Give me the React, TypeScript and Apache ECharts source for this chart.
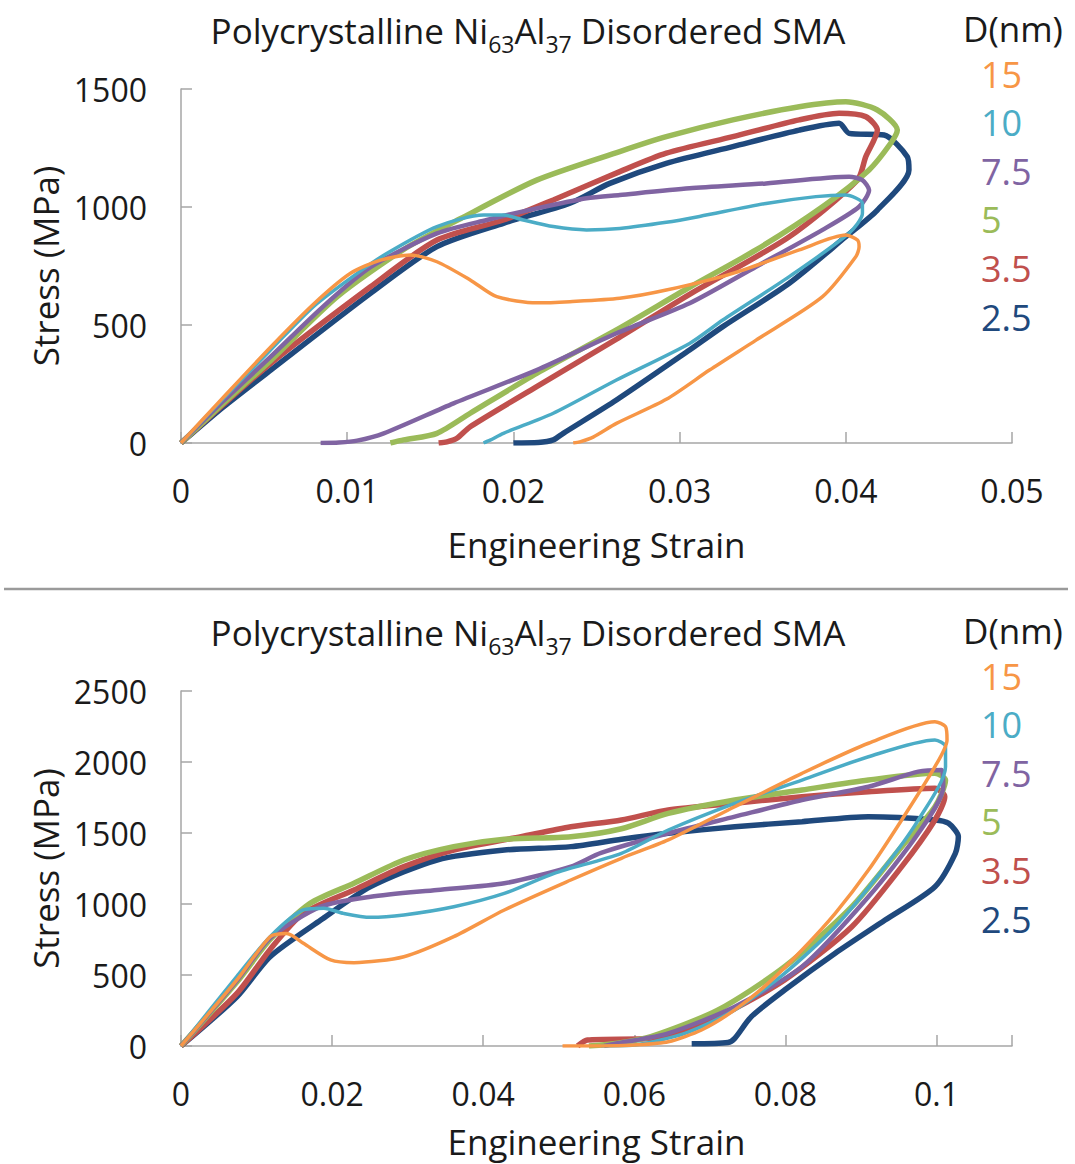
import React, { useEffect, useRef } from "react";
import * as echarts from "echarts";

// ---------- data ----------
const sizeNames = ["15", "10", "7.5", "5", "3.5", "2.5"];
const sizeColors = ["#F79646", "#4BACC6", "#8064A2", "#9BBB59", "#C0504D", "#1F497D"];
const sizeWidths = [3.5, 3.5, 4.5, 5.5, 5.5, 5.5];

const topXTicks = [0, 0.01, 0.02, 0.03, 0.04, 0.05];
const topYTicks = [0, 500, 1000, 1500];
const botXTicks = [0, 0.02, 0.04, 0.06, 0.08, 0.1];
const botXMax = 0.11;
const botYTicks = [0, 500, 1000, 1500, 2000, 2500];

// top panel: [strain, stress MPa]
const top15 = [[0,0],[0.0025,190],[0.0054,407],[0.008,590],[0.0102,719],[0.012,775],[0.0138,797],[0.0154,768],[0.0174,691],[0.019,620],[0.0214,594],[0.0234,599],[0.0264,613],[0.0292,648],[0.0332,719],[0.0372,818],[0.04,881],[0.0407,860],[0.0408,832],[0.0406,789],[0.0386,620],[0.0346,436],[0.0318,309],[0.0292,185],[0.0262,83],[0.0248,25],[0.024,5],[0.0236,0]];
const top10 = [[0,0],[0.0025,185],[0.0054,395],[0.008,580],[0.0106,719],[0.0124,804],[0.0154,917],[0.0182,966],[0.0194,966],[0.0206,945],[0.0224,917],[0.0244,903],[0.0264,909],[0.0292,935],[0.0312,960],[0.0352,1015],[0.0382,1044],[0.04,1051],[0.041,1016],[0.041,973],[0.0402,889],[0.0366,705],[0.0326,521],[0.0306,422],[0.0262,267],[0.0224,126],[0.0194,41],[0.0186,12],[0.0182,0]];
const top7_5 = [[0,0],[0.0025,175],[0.0054,366],[0.0085,575],[0.0114,745],[0.0154,888],[0.0184,945],[0.0214,994],[0.0244,1037],[0.0264,1051],[0.0306,1079],[0.0352,1100],[0.0402,1128],[0.041,1114],[0.0414,1072],[0.0408,1001],[0.0386,903],[0.0346,747],[0.0306,592],[0.0262,465],[0.0214,309],[0.0164,168],[0.0122,41],[0.0106,10],[0.0095,2],[0.0084,0]];
const top5 = [[0,0],[0.0025,165],[0.0054,350],[0.0094,620],[0.0134,820],[0.0168,950],[0.0214,1114],[0.0264,1235],[0.0292,1298],[0.0332,1369],[0.0372,1425],[0.04,1446],[0.0419,1411],[0.0431,1326],[0.0427,1270],[0.0414,1157],[0.0386,1001],[0.0346,818],[0.0306,660],[0.0262,479],[0.0214,295],[0.0174,126],[0.0154,41],[0.0134,13],[0.0126,0]];
const top3_5 = [[0,0],[0.0025,160],[0.0054,338],[0.0114,662],[0.0154,860],[0.0194,945],[0.0224,1030],[0.0264,1150],[0.0292,1228],[0.0332,1298],[0.0372,1369],[0.0396,1397],[0.0412,1383],[0.0419,1326],[0.0412,1213],[0.0407,1114],[0.0366,874],[0.0306,630],[0.0262,440],[0.0214,239],[0.0174,69],[0.0166,20],[0.016,5],[0.0155,0]];
const top2_5 = [[0,0],[0.0025,150],[0.0054,309],[0.0114,634],[0.0154,832],[0.0194,931],[0.0234,1016],[0.0258,1100],[0.0292,1185],[0.0332,1256],[0.0372,1326],[0.0396,1355],[0.0402,1312],[0.0423,1305],[0.0437,1213],[0.0438,1157],[0.0419,987],[0.04,874],[0.0366,677],[0.0326,493],[0.0306,394],[0.0262,182],[0.023,41],[0.0224,13],[0.0215,2],[0.02,0]];

// bottom panel
const bot15 = [[0,0],[0.0074,465],[0.0118,770],[0.014,793],[0.0162,723],[0.0198,606],[0.0229,587],[0.0295,629],[0.0361,770],[0.0428,958],[0.0516,1169],[0.0583,1322],[0.0645,1451],[0.0733,1685],[0.0822,1920],[0.091,2132],[0.0998,2284],[0.1012,2249],[0.1014,2155],[0.0998,1967],[0.0954,1592],[0.091,1239],[0.0866,934],[0.0822,676],[0.0777,441],[0.0733,254],[0.0689,113],[0.0645,30],[0.06,7],[0.0556,0],[0.0505,0]];
const bot10 = [[0,0],[0.0074,490],[0.0118,770],[0.0162,958],[0.0189,970],[0.0215,934],[0.0251,906],[0.0295,923],[0.0361,981],[0.0428,1075],[0.0494,1216],[0.0583,1357],[0.0645,1521],[0.0733,1709],[0.0822,1873],[0.091,2037],[0.0998,2155],[0.1012,2108],[0.1012,1967],[0.0976,1592],[0.0932,1263],[0.0866,840],[0.0799,512],[0.0733,254],[0.0667,89],[0.06,7],[0.0556,0]];
const bot7_5 = [[0,0],[0.0074,460],[0.0118,760],[0.0185,981],[0.0251,1051],[0.0339,1099],[0.0428,1146],[0.0516,1263],[0.0556,1360],[0.0645,1498],[0.0733,1615],[0.0822,1732],[0.091,1826],[0.0976,1932],[0.1007,1944],[0.1009,1826],[0.0976,1498],[0.091,1051],[0.0822,558],[0.0733,277],[0.0645,89],[0.0578,19],[0.056,0]];
const bot5 = [[0,0],[0.0074,450],[0.0118,750],[0.0171,1005],[0.0229,1146],[0.0295,1310],[0.0361,1404],[0.0428,1456],[0.0516,1474],[0.0583,1530],[0.0645,1638],[0.0733,1732],[0.0822,1803],[0.091,1873],[0.0998,1920],[0.1012,1873],[0.0998,1685],[0.0954,1404],[0.0888,981],[0.0799,558],[0.0711,254],[0.0622,66],[0.0578,19],[0.054,0]];
const bot3_5 = [[0,0],[0.0074,370],[0.0118,680],[0.0162,934],[0.0229,1099],[0.0295,1263],[0.0361,1380],[0.045,1474],[0.0516,1544],[0.0583,1592],[0.0645,1662],[0.0733,1709],[0.0822,1756],[0.091,1791],[0.0998,1815],[0.1011,1756],[0.0998,1592],[0.0954,1263],[0.0888,840],[0.0799,465],[0.0711,207],[0.0622,54],[0.0538,42],[0.0525,0]];
const bot2_5 = [[0,0],[0.0074,347],[0.0118,629],[0.0185,887],[0.0251,1122],[0.0339,1310],[0.0428,1380],[0.0516,1404],[0.0583,1456],[0.0645,1498],[0.0733,1544],[0.0822,1580],[0.091,1615],[0.0998,1592],[0.1016,1568],[0.1029,1474],[0.1025,1357],[0.0998,1122],[0.0932,887],[0.0866,653],[0.0799,394],[0.0755,207],[0.0733,54],[0.0724,25],[0.0676,15]];

const topData = [top15, top10, top7_5, top5, top3_5, top2_5];
const botData = [bot15, bot10, bot7_5, bot5, bot3_5, bot2_5];

// ---------- styling ----------
const FONT = "'Open Sans', 'Noto Sans', sans-serif";
const AXIS = "#A6A6A6";
const TXT = "#1a1a1a";
const FS_NAME = 35;
const FS_TICK = 32;
const FS_LEG = 36;

function fmt(v: number) {
  if (v > 0.105 && v < 0.2) return "";
  return String(Number(v.toFixed(4)));
}

function xAxis(gridIndex: number, ticks: number[], max: number, nameGap: number) {
  return {
    type: "value", gridIndex, min: ticks[0], max, interval: ticks[1] - ticks[0],
    name: "Engineering Strain", nameLocation: "middle", nameGap,
    nameTextStyle: { fontFamily: FONT, fontSize: FS_NAME, color: TXT },
    axisLine: { show: true, lineStyle: { color: AXIS, width: 1.5 } },
    axisTick: { show: true, inside: true, length: 11, lineStyle: { color: AXIS, width: 1.5 } },
    axisLabel: { margin: 31, fontFamily: FONT, fontSize: FS_TICK, color: TXT, formatter: fmt },
    splitLine: { show: false },
  };
}
function yAxis(gridIndex: number, ticks: number[]) {
  return {
    type: "value", gridIndex, min: ticks[0], max: ticks[ticks.length - 1], interval: ticks[1] - ticks[0],
    name: "Stress (MPa)", nameLocation: "middle", nameGap: 116, nameRotate: 90,
    nameTextStyle: { fontFamily: FONT, fontSize: FS_NAME, color: TXT },
    axisLine: { show: true, lineStyle: { color: AXIS, width: 1.5 } },
    axisTick: { show: true, inside: true, length: 11, lineStyle: { color: AXIS, width: 1.5 } },
    axisLabel: { margin: 34, fontFamily: FONT, fontSize: FS_TICK, color: TXT, formatter: (v: number) => String(v) },
    splitLine: { show: false },
  };
}
function legend(top: number) {
  return {
    orient: "vertical", left: 971, top, icon: "none", itemWidth: 0, itemHeight: 10, itemGap: 12.6,
    selectedMode: false,
    textStyle: { fontFamily: FONT, fontSize: FS_LEG, lineHeight: 36 },
    data: sizeNames.map((n, i) => ({ name: n, textStyle: { color: sizeColors[i] } })),
  };
}
function titleText(cx: number, cy: number) {
  return {
    type: "text", x: cx, y: cy,
    style: {
      text: "Polycrystalline Ni{sub|63}Al{sub|37} Disordered SMA",
      fontFamily: FONT, fontSize: FS_NAME, fill: TXT, lineHeight: 50,
      align: "center", verticalAlign: "middle",
      rich: { sub: { fontFamily: FONT, fontSize: 23, lineHeight: 23, verticalAlign: "bottom", fill: TXT } },
    },
  };
}
function headText(x: number, cy: number) {
  return {
    type: "text", x, y: cy,
    style: { text: "D(nm)", fontFamily: FONT, fontSize: FS_NAME, fill: TXT, align: "left", verticalAlign: "middle" },
  };
}

export default function App() {
  const ref = useRef<HTMLDivElement>(null);
  useEffect(() => {
    document.body.style.margin = "0";
    const chart = echarts.init(ref.current!, undefined, { renderer: "svg" });
    const series: any[] = [];
    for (let p = 0; p < 2; p++) {
      const data = p === 0 ? topData : botData;
      for (let i = sizeNames.length - 1; i >= 0; i--) {
        series.push({
          type: "line", name: sizeNames[i], xAxisIndex: p, yAxisIndex: p,
          data: data[i], showSymbol: false, symbol: "none", smooth: 0.25,
          lineStyle: { color: sizeColors[i], width: sizeWidths[i] },
          itemStyle: { color: sizeColors[i] },
          z: 2,
        });
      }
    }
    chart.setOption({
      animation: false,
      backgroundColor: "#fff",
      grid: [
        { left: 181, top: 89, width: 831, height: 354 },
        { left: 181, top: 691, width: 831, height: 355 },
      ],
      xAxis: [xAxis(0, topXTicks, topXTicks[topXTicks.length - 1], 84), xAxis(1, botXTicks, botXMax, 78)],
      yAxis: [yAxis(0, topYTicks), yAxis(1, botYTicks)],
      legend: [legend(51), legend(653)],
      graphic: [
        titleText(528, 30),
        titleText(528, 632),
        headText(963, 28),
        headText(963, 630),
        { type: "line", shape: { x1: 4, y1: 589, x2: 1068, y2: 589 }, style: { stroke: "#9A9A9A", lineWidth: 2.5 } },
      ],
      series,
    });
    return () => chart.dispose();
  }, []);
  return <div ref={ref} style={{ width: 1075, height: 1164, overflow: "hidden" }} />;
}
